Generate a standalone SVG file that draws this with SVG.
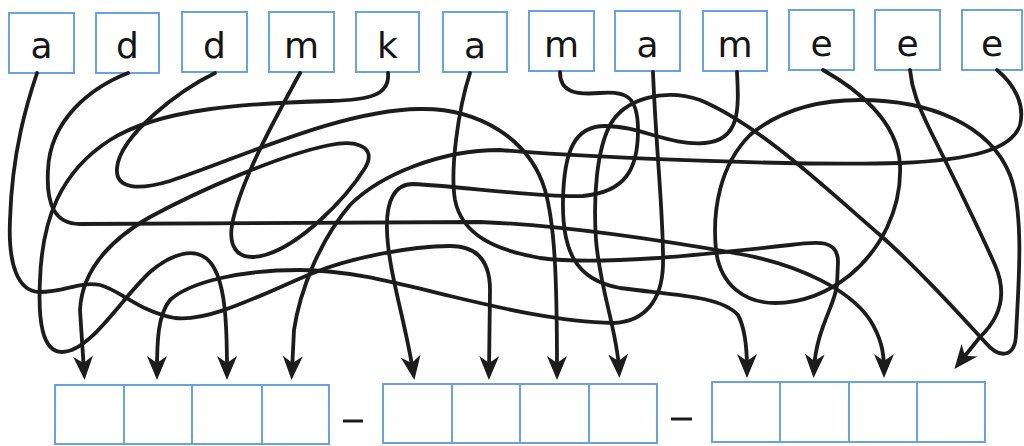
<svg xmlns="http://www.w3.org/2000/svg" width="1024" height="446" viewBox="0 0 1024 446">
<defs>
<style>
.box{fill:#fff;stroke:#6aa3d8;stroke-width:2}
.lt{font-family:"DejaVu Sans","Liberation Sans",sans-serif;font-size:36px;fill:#151515;text-anchor:middle}
.ln{fill:none;stroke:#1c1c1c;stroke-width:3.8;stroke-linecap:round;marker-end:url(#ah)}
.dash{stroke:#1c1c1c;stroke-width:3}
</style>
<marker id="ah" markerUnits="userSpaceOnUse" markerWidth="26" markerHeight="22" refX="15" refY="10" orient="auto">
<path d="M0,0 L24,10 L0,20 L7,10 Z" fill="#1c1c1c"/>
</marker>
</defs>
<rect width="1024" height="446" fill="#fff"/>

<g id="top-letters">
<g id="t1"><rect class="box" x="9" y="13" width="65" height="60"/><text class="lt" x="41.5" y="58">a</text></g>
<g id="t2"><rect class="box" x="96" y="13" width="63" height="60"/><text class="lt" x="127.5" y="58">d</text></g>
<g id="t3"><rect class="box" x="182" y="12" width="65" height="60"/><text class="lt" x="214.5" y="58">d</text></g>
<g id="t4"><rect class="box" x="269" y="12" width="65" height="60"/><text class="lt" x="301.5" y="58">m</text></g>
<g id="t5"><rect class="box" x="356" y="12" width="63" height="60"/><text class="lt" x="387.5" y="58">k</text></g>
<g id="t6"><rect class="box" x="443" y="12" width="64" height="60"/><text class="lt" x="475" y="58">a</text></g>
<g id="t7"><rect class="box" x="529" y="11" width="65" height="60"/><text class="lt" x="561.5" y="57">m</text></g>
<g id="t8"><rect class="box" x="615" y="11" width="65" height="60"/><text class="lt" x="647.5" y="57">a</text></g>
<g id="t9"><rect class="box" x="703" y="11" width="64" height="60"/><text class="lt" x="735" y="57">m</text></g>
<g id="t10"><rect class="box" x="789" y="10" width="65" height="60"/><text class="lt" x="821.5" y="56">e</text></g>
<g id="t11"><rect class="box" x="875" y="10" width="65" height="60"/><text class="lt" x="907.5" y="56">e</text></g>
<g id="t12"><rect class="box" x="962" y="10" width="60" height="60"/><text class="lt" x="992" y="56">e</text></g>
</g>

<g id="connectors">
<!-- a -> 6 -->
<path class="ln" d="M37,73 C28,100 12,150 10,220 C8,265 18,292 40,292 C65,292 80,281 100,285 C120,290 140,312 175,318 C210,322 260,295 313,273 C350,258 410,246 450,246 C480,246 490,265 490,290 L489,371"/>
<!-- d -> 11 -->
<path class="ln" d="M128,73 C90,88 50,120 48,170 C46,205 55,224 80,224 L480,222 C560,225 660,240 740,254 C800,265 850,290 870,320 C880,336 884,350 884,369"/>
<!-- d -> 7 -->
<path class="ln" d="M215,73 C180,90 120,135 117,168 C115,190 140,190 170,181 C240,158 340,110 420,109 C480,108 530,140 545,190 C555,225 557,280 557,371"/>
<!-- m -> 1 -->
<path class="ln" d="M300,73 C280,110 240,180 232,225 C228,250 240,262 265,255 C300,245 345,200 365,168 C378,146 355,140 330,145 C280,155 200,190 150,217 C110,240 82,270 80,310 L84,371"/>
<!-- k -> 3 -->
<path class="ln" d="M388,73 C390,95 370,100 330,101 C250,103 160,108 110,140 C60,172 42,220 40,280 C38,320 42,352 62,352 C90,352 120,300 150,272 C170,255 195,245 210,262 C225,280 227,320 227,371"/>
<!-- a -> 10 -->
<path class="ln" d="M470,73 C458,110 450,170 455,200 C462,235 495,250 540,258 C600,266 700,255 790,245 C820,241 838,240 838,262 L837,285 C835,305 816,330 814,369"/>
<!-- m -> 5 -->
<path class="ln" d="M560,72 C560,92 575,95 600,93 C625,91 638,95 638,130 C638,170 625,192 583,196 C540,198 460,186 413,184 C395,184 386,200 387,230 C388,270 405,320 413,371"/>
<!-- a -> 2 -->
<path class="ln" d="M653,72 C656,150 664,220 663,265 C662,300 645,322 613,323 C560,322 500,308 450,296 C400,284 350,270 300,270 C240,270 190,282 170,300 C158,315 157,340 157,371"/>
<!-- m -> 9 -->
<path class="ln" d="M737,72 C739,110 740,140 705,143 C670,146 640,126 605,126 C575,126 564,150 563,200 C562,250 575,280 620,288 C670,295 720,295 738,315 C746,330 747,350 747,369"/>
<!-- e -> 8 -->
<path class="ln" d="M823,70 C855,88 898,120 900,165 C902,210 880,250 850,275 C825,295 800,303 775,303 C745,303 720,285 716,250 C712,210 720,165 750,135 C780,110 820,100 860,100 C930,100 990,125 1010,175 C1025,215 1018,290 1016,335 C1015,357 1000,360 985,342 C960,315 920,270 880,235 C830,192 760,125 700,100 C665,88 625,98 610,125 C597,150 593,195 596,240 C600,290 617,330 619,369"/>
<!-- e -> 12 -->
<path class="ln" d="M910,70 C912,90 918,105 930,130 C950,170 975,220 995,265 C1008,295 1000,318 980,337 L960,362"/>
<!-- e -> 4 -->
<path class="ln" d="M997,70 C1015,85 1025,105 1020,125 C1012,150 970,160 900,163 C800,166 600,158 500,150 C440,150 380,175 350,205 C320,240 300,290 294,330 L292,371"/>
</g>

<g id="answer-1">
<rect class="box" x="55" y="385" width="69" height="59"/>
<rect class="box" x="124" y="385" width="68" height="59"/>
<rect class="box" x="192" y="385" width="70" height="59"/>
<rect class="box" x="262" y="385" width="67" height="59"/>
</g>
<line class="dash" x1="343" y1="421" x2="363" y2="421"/>
<g id="answer-2">
<rect class="box" x="383" y="384" width="69" height="59"/>
<rect class="box" x="452" y="384" width="68" height="59"/>
<rect class="box" x="520" y="384" width="69" height="59"/>
<rect class="box" x="589" y="384" width="68" height="59"/>
</g>
<line class="dash" x1="671" y1="419" x2="692" y2="419"/>
<g id="answer-3">
<rect class="box" x="712" y="382" width="68" height="60"/>
<rect class="box" x="780" y="382" width="69" height="60"/>
<rect class="box" x="849" y="382" width="68" height="60"/>
<rect class="box" x="917" y="382" width="68" height="60"/>
</g>
</svg>
